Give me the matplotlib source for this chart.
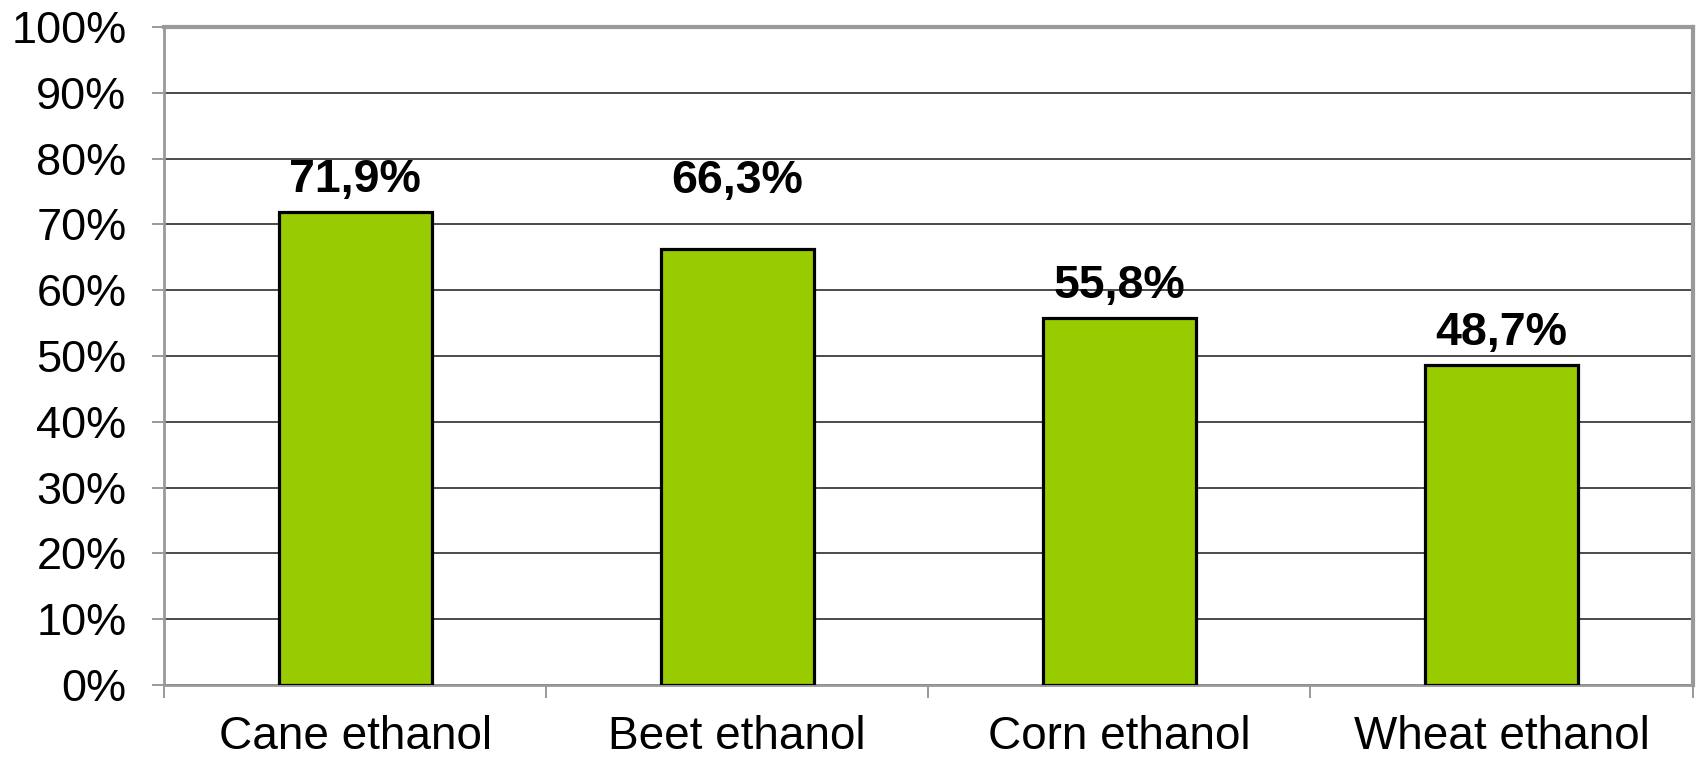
import matplotlib.pyplot as plt
import numpy as np

# data
categories = ['Cane ethanol', 'Beet ethanol', 'Corn ethanol', 'Wheat ethanol']
values = [71.9, 66.3, 55.8, 48.7]
y_ticks = list(range(0, 101, 10))

# label offset above the bar top, in points (Beet label sits higher)
label_offsets = [14, 40, 14, 14]

plt.rcParams['font.family'] = ['Liberation Sans', 'DejaVu Sans']

fig = plt.figure(figsize=(16.96, 7.57), dpi=100)
ax = fig.add_axes([0.0967, 0.095, 0.9013, 0.8693])

x = np.arange(len(categories))
bars = ax.bar(x, values, width=0.4, color='#99CC00', edgecolor='black',
              linewidth=2.3, zorder=3)

for b, v, off in zip(bars, values, label_offsets):
    txt = f'{v:.1f}'.replace('.', ',') + '%'
    ax.annotate(txt, (b.get_x() + b.get_width() / 2, v),
                xytext=(0, off), textcoords='offset points',
                ha='center', va='baseline', fontsize=33.5, fontweight='bold')

ax.set_ylim(0, 100)
ax.set_xlim(-0.5, len(categories) - 0.5)
ax.set_yticks(y_ticks)
ax.set_yticklabels([f'{t}%' for t in y_ticks], fontsize=32.5)
ax.yaxis.grid(True, color='#1a1a1a', linewidth=1.1, zorder=0)

# boundary ticks as major, category labels on minor ticks
ax.set_xticks(np.arange(-0.5, len(categories), 1.0))
ax.set_xticklabels([])
ax.set_xticks(x, minor=True)
ax.set_xticklabels(categories, minor=True, fontsize=33)
ax.tick_params(axis='x', which='minor', length=0, pad=21.5)
ax.tick_params(axis='x', which='major', length=9, width=1.2, color='#888888')
ax.tick_params(axis='y', length=9, width=1.2, color='#888888', pad=18)

for s in ax.spines.values():
    s.set_color('#999999')
    s.set_linewidth(2)
ax.spines['right'].set_linewidth(3)
ax.spines['top'].set_linewidth(3)

fig.savefig('out.png', dpi=100)
